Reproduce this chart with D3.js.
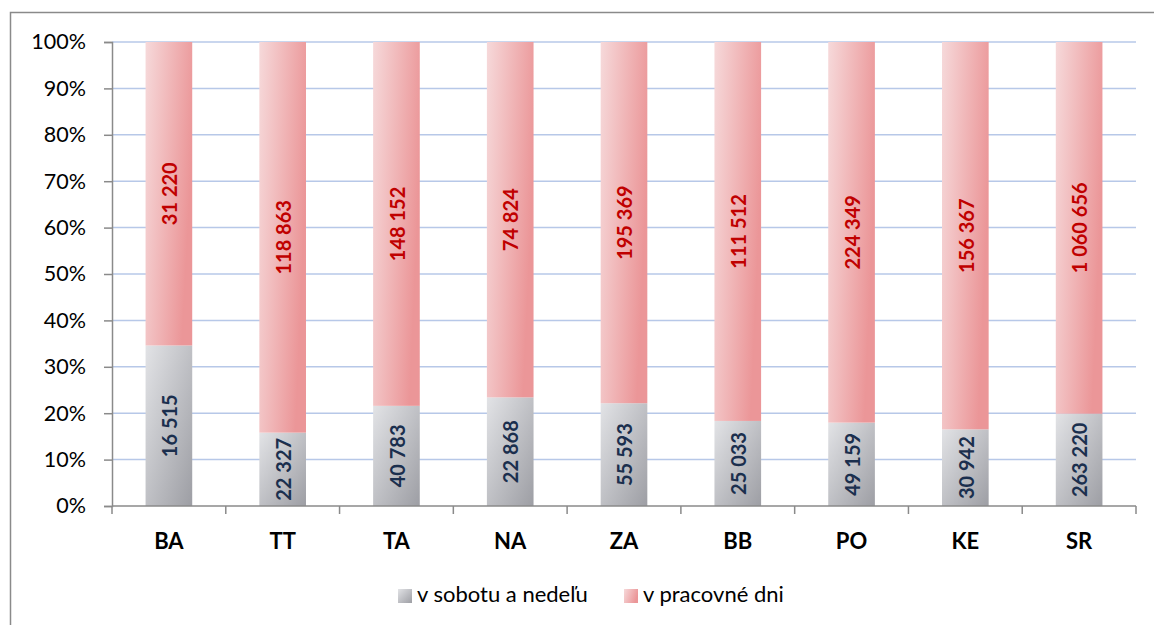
<!DOCTYPE html>
<html><head><meta charset="utf-8">
<script src="https://cdn.jsdelivr.net/npm/d3@7"></script>
<style>body{margin:0;background:#fff;}svg{display:block;font-family:Lato,"Open Sans",sans-serif;}</style>
</head><body>
<svg id="c" width="1154" height="625"></svg>
<script>
const categories = ["BA","TT","TA","NA","ZA","BB","PO","KE","SR"];
const weekend = [16515,22327,40783,22868,55593,25033,49159,30942,263220];
const workdays = [31220,118863,148152,74824,195369,111512,224349,156367,1060656];
const yTicks = [0,0.1,0.2,0.3,0.4,0.5,0.6,0.7,0.8,0.9,1];
const seriesNames = ["v sobotu a nedeľu","v pracovné dni"];

(function(){
const svg = d3.select("#c");
const fmt = v => d3.format(",")(v).replace(/,/g," ");

const defs = svg.append("defs");
const g1 = defs.append("linearGradient").attr("id","gGray").attr("x1","0").attr("y1","0").attr("x2","1").attr("y2","1");
g1.append("stop").attr("offset","0").attr("stop-color","#e2e3e6");
g1.append("stop").attr("offset","1").attr("stop-color","#9d9ea4");
const g2 = defs.append("linearGradient").attr("id","gPink").attr("x1","0").attr("y1","0").attr("x2","1").attr("y2","0.35");
g2.append("stop").attr("offset","0").attr("stop-color","#f6d9da");
g2.append("stop").attr("offset","1").attr("stop-color","#eb9698");

// outer border
svg.append("rect").attr("x",10.5).attr("y",12.5).attr("width",1150).attr("height",630)
  .attr("fill","none").attr("stroke","#8a8a8a").attr("stroke-width",1.5);

const pL=112, pR=1136, pT=42, pB=506;
const x = d3.scaleBand().domain(categories).range([pL,pR]).paddingInner(0.59).paddingOuter(0.295);
const y = d3.scaleLinear().domain([0,1]).range([pB,pT]);

// gridlines
svg.append("g").selectAll("line").data(yTicks.filter(d=>d>0)).join("line")
  .attr("x1",pL).attr("x2",pR).attr("y1",d=>y(d)).attr("y2",d=>y(d))
  .attr("stroke","#b7c8e8").attr("stroke-width",1.5);

// y axis
const ya = svg.append("g").attr("transform",`translate(${pL},0)`)
  .call(d3.axisLeft(y).tickValues(yTicks).tickFormat(d3.format(".0%")).tickSize(8).tickPadding(18));
ya.select(".domain").attr("stroke","#8a8a8a").attr("stroke-width",1.5);
ya.selectAll(".tick line").attr("stroke","#8a8a8a").attr("stroke-width",1.5);
ya.selectAll("text").attr("font-size",21.5).attr("fill","#000").attr("font-family","Lato,sans-serif");

// bars
const data = categories.map((c,i)=>{const t=weekend[i]+workdays[i];return {c,w:weekend[i],p:workdays[i],fw:weekend[i]/t};});
const bars = svg.append("g");
bars.selectAll("rect.w").data(data).join("rect").attr("class","w")
  .attr("x",d=>x(d.c)).attr("width",x.bandwidth())
  .attr("y",d=>y(d.fw)).attr("height",d=>y(0)-y(d.fw)).attr("fill","url(#gGray)");
bars.selectAll("rect.p").data(data).join("rect").attr("class","p")
  .attr("x",d=>x(d.c)).attr("width",x.bandwidth())
  .attr("y",y(1)).attr("height",d=>y(d.fw)-y(1)).attr("fill","url(#gPink)");

// x axis
const xs = d3.scaleLinear().domain([0,categories.length]).range([pL,pR]);
svg.append("line").attr("x1",pL).attr("x2",pR).attr("y1",pB).attr("y2",pB).attr("stroke","#8a8a8a").attr("stroke-width",1.5);
svg.append("g").selectAll("line").data(d3.range(categories.length+1)).join("line")
  .attr("x1",d=>xs(d)).attr("x2",d=>xs(d)).attr("y1",pB).attr("y2",pB+8).attr("stroke","#8a8a8a").attr("stroke-width",1.5);
svg.append("g").selectAll("text").data(categories).join("text")
  .attr("x",d=>x(d)+x.bandwidth()/2).attr("y",549).attr("text-anchor","middle")
  .attr("font-size",22).attr("font-weight","bold").text(d=>d);

// labels
const lab = svg.append("g");
lab.selectAll("text.w").data(data).join("text").attr("class","w")
  .attr("transform",d=>`translate(${x(d.c)+x.bandwidth()/2+1},${(y(0)+y(d.fw))/2}) rotate(-90)`)
  .attr("text-anchor","middle").attr("dy","0.36em").attr("font-size",20).attr("font-weight","bold")
  .attr("fill","#1b2f4e").text(d=>fmt(d.w));
lab.selectAll("text.p").data(data).join("text").attr("class","p")
  .attr("transform",d=>`translate(${x(d.c)+x.bandwidth()/2+1},${(y(1)+y(d.fw))/2}) rotate(-90)`)
  .attr("text-anchor","middle").attr("dy","0.36em").attr("font-size",20).attr("font-weight","bold")
  .attr("fill","#c00000").text(d=>fmt(d.p));

// legend
const leg = svg.append("g");
const legItems = [{n:seriesNames[0],f:"url(#gGray)",x:398},{n:seriesNames[1],f:"url(#gPink)",x:624}];
leg.selectAll("rect").data(legItems).join("rect").attr("x",d=>d.x).attr("y",589).attr("width",14).attr("height",14).attr("fill",d=>d.f);
leg.selectAll("text").data(legItems).join("text").attr("x",d=>d.x+19).attr("y",602).attr("font-size",22).attr("fill","#000").text(d=>d.n);
})();
</script>
</body></html>
